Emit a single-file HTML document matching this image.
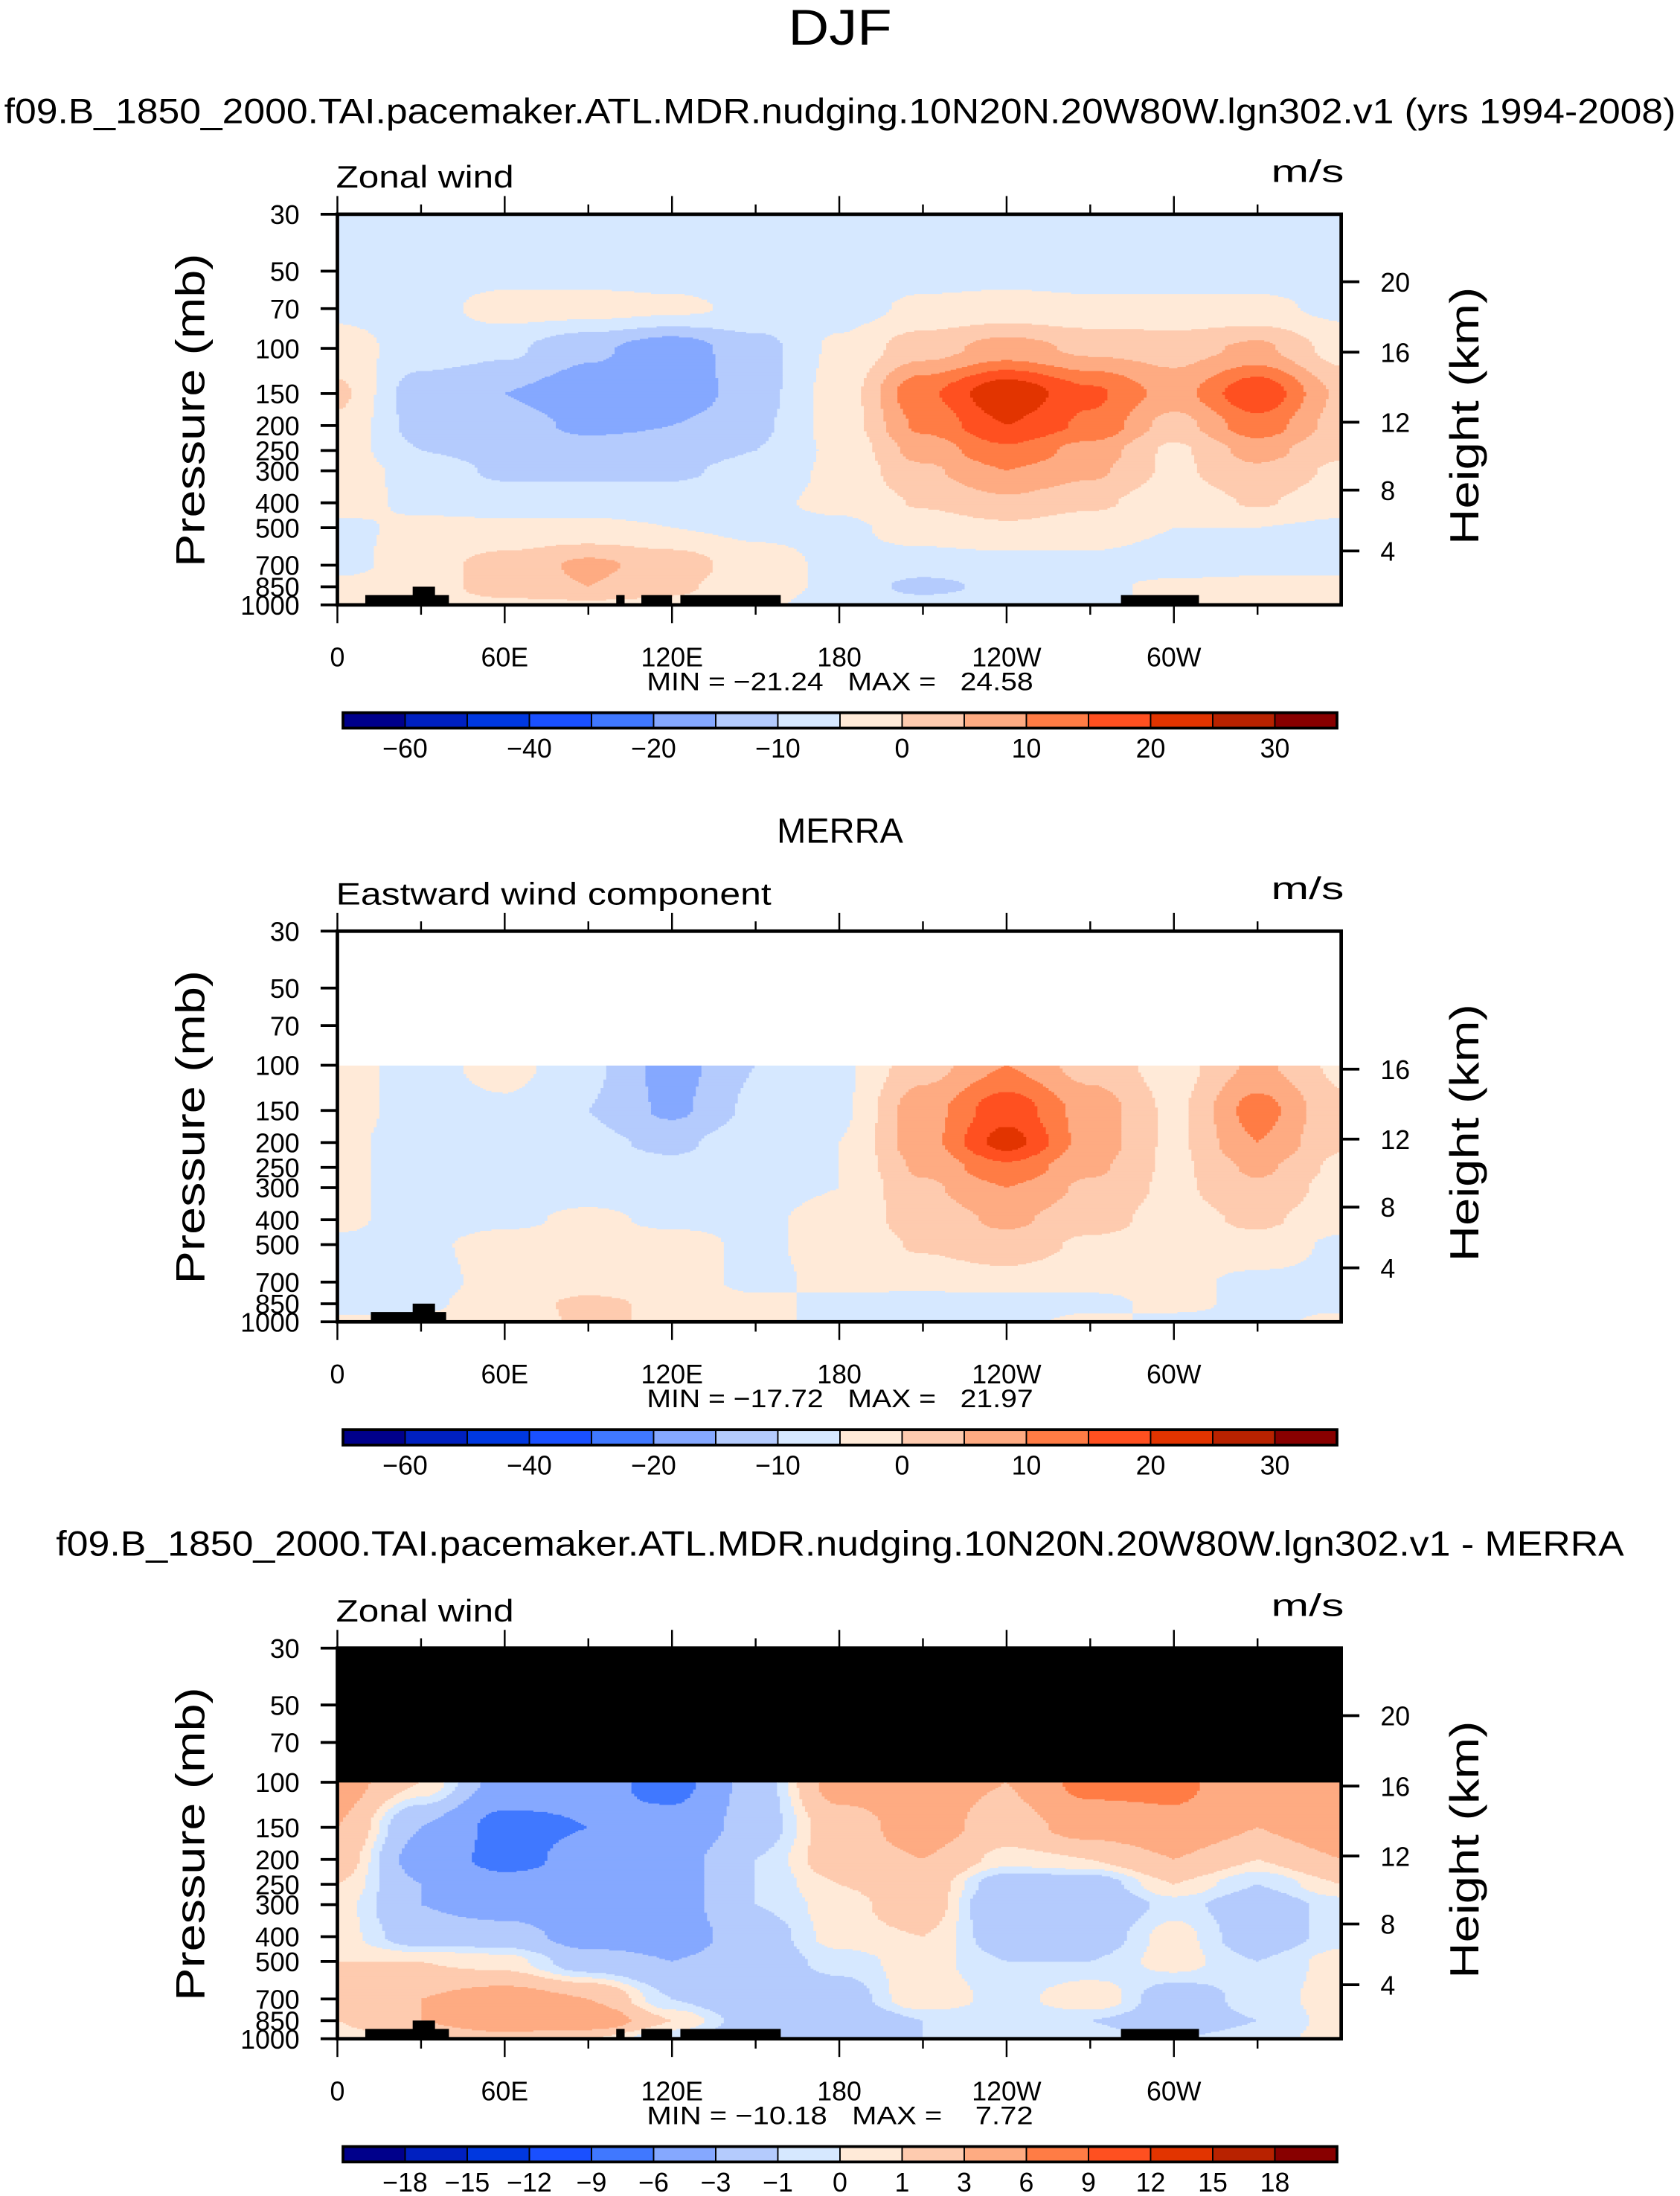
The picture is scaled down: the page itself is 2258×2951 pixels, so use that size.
<!DOCTYPE html>
<html><head><meta charset="utf-8"><style>
html,body{margin:0;padding:0;background:#fff;}
svg{display:block;}
text{font-family:"Liberation Sans",sans-serif;fill:#000;white-space:pre;}
</style></head><body>
<svg id="chart" xmlns="http://www.w3.org/2000/svg" width="2258" height="2951" viewBox="0 0 1200 1568.3" preserveAspectRatio="none">
<rect width="1200" height="1568.3" fill="#fff"/>
<text x="600" y="32" text-anchor="middle" font-size="36" textLength="74" lengthAdjust="spacingAndGlyphs">DJF</text>
<text x="600" y="88" text-anchor="middle" font-size="25" textLength="1194" lengthAdjust="spacingAndGlyphs">f09.B_1850_2000.TAI.pacemaker.ATL.MDR.nudging.10N20N.20W80W.lgn302.v1 (yrs 1994-2008)</text>
<text x="600" y="602" text-anchor="middle" font-size="25">MERRA</text>
<text x="600" y="1111" text-anchor="middle" font-size="25" textLength="1120" lengthAdjust="spacingAndGlyphs">f09.B_1850_2000.TAI.pacemaker.ATL.MDR.nudging.10N20N.20W80W.lgn302.v1 - MERRA</text>
</svg>
<script>
const lons=[0,30,60,90,120,150,180,210,240,270,300,330,360];
const plevs=[30,50,70,100,150,200,250,300,400,500,700,850,1000];
const xTickLabels=["0","60E","120E","180","120W","60W"];
const xTickLons=[0,60,120,180,240,300];
const pTickLabels=["30","50","70","100","150","200","250","300","400","500","700","850","1000"];
const heightTicks=[20,16,12,8,4];
const heightPres=[55,103.5,194,357,616];
const levelsAbs=[-60,-50,-40,-30,-20,-15,-10,-5,0,5,10,15,20,25,30];
const levelLabelsAbs=["-60","","-40","","-20","","-10","","0","","10","","20","","30"];
const levelsDiff=[-18,-15,-12,-9,-6,-3,-1,0,1,3,6,9,12,15,18];
const levelLabelsDiff=["-18","-15","-12","-9","-6","-3","-1","0","1","3","6","9","12","15","18"];
const palette=["#00008b","#0020c0","#0038e0","#1a50ff","#4078ff","#85a8ff","#b4cbfd","#d6e8ff","#ffead8","#fecbaf","#feab82","#ff7c45","#ff5020","#e23400","#b82200","#880000"];
const modelU=[
[-7,-7,-7,-7,-7,-7,-7,-7,-7,-7,-7,-7,-7],
[-7,-7,-7,-7,-7,-7,-7,-7,-7,-7,-7,-7,-7],
[-6,-7,-3,-3,-4,-6,-7,-4,-3,-4,-4,-4,-6],
[-3,-7,-9,-14,-18,-12,-4,3,7,4,3,6,-2],
[1,-13,-15,-18,-19,-12,-3,14,24,16,8,19,4],
[-1,-12,-13,-16,-15,-11,-3,11,20,14,3,13,3],
[-2,-10,-12,-13,-13,-10,-4,7,14,8,-1,7,1],
[-2,-7,-11,-11,-11,-8,-4,4,10,6,-1,4,-1],
[-3,-6,-7,-7,-7,-6,-4,0.5,4,1,-3,0.5,-3],
[-6,-4,-4,-4,-5,-6,-6,-3,-1,-3,-5,-5,-6],
[-7,-2,2,6,3,-3,-6,-7,-7,-6,-7,-7,-7],
[-3,-2,2,5,1,-3,-6,-12,-8,-6,-4,-3,-3],
[-3,-2,-1,-1,-1,-4,-7,-7,-7,-6,-4,-4,-4]];
const merraU=[
[null,null,null,null,null,null,null,null,null,null,null,null,null],
[null,null,null,null,null,null,null,null,null,null,null,null,null],
[null,null,null,null,null,null,null,null,null,null,null,null,null],
[-3,-7,-3,-9,-17,-10,-6,3,10,3,-2,6,-1],
[-3,-7,-6,-10,-16,-9,-6,8,18,8,-1,12,1],
[-4,-7,-7,-9,-11,-7,-5,8,22,8,-1,10,0.5],
[-4,-7,-7,-8,-9,-7,-5,6,14,6,-1,6,-1],
[-4,-7,-7,-7,-7,-7,-5,4,10,4,-1,4,-2],
[-4,-7,-6,-4,-6,-6,-3,2,6,2,-2,1,-3],
[-6,-6,-3,-3,-3,-6,-3,0.5,3,-1,-2,-2,-6],
[-7,-7,-3,-2,-3,-6,-4,-3,-2,-4,-4,-6,-6],
[-7,-6,-2,1,-1,-4,-6,-8,-8,-6,-4,-6,-6],
[-4,-4,-3,1,-1,-4,-6,-7,-6,-4,-6,-6,-4]];
const diffU=[
[null,null,null,null,null,null,null,null,null,null,null,null,null],
[null,null,null,null,null,null,null,null,null,null,null,null,null],
[null,null,null,null,null,null,null,null,null,null,null,null,null],
[4,1,-4,-5,-7,-2,4,4,3,7,7,3,4],
[3,-3,-7,-6,-5,-2,2,4,2,4,5,3,5],
[2,-4,-7,-5,-4,-1,2,3,0.5,1,3,1,3],
[1,-3,-5,-5,-4,-1,1,2,-2,-2,1,-1,1],
[0.5,-3,-4,-5,-4,-1,0.5,2,-3,-3,-0.5,-2,-0.5],
[0.5,-2,-2,-4,-4,-2,0.5,1,-2,-2,0.5,-2,-0.5],
[1,1,0.5,-2,-3,-2,-0.5,0.5,-1,-1,0.5,-1,0.5],
[2,3,4,3,-1,-3,-2,1,-0.5,1,-2,-0.5,0.5],
[1,3,5,5,1,-2,-3,-1,-0.5,-1,-2,-1,0.5],
[0.5,1,2,1,-1,-2,-2,-1,-0.5,-0.5,-1,-0.5,0.5]];
const minMaxText=["MIN = \u221221.24   MAX =   24.58","MIN = \u221217.72   MAX =   21.97","MIN = \u221210.18   MAX =    7.72"];
const landBars=[[10,40,0],[27,35,1],[100,103,0],[109,120,0],[123,159,0],[281,309,0]];
const landBarsMerra=[[12,39,0],[27,35,1]];

const NS="http://www.w3.org/2000/svg";
const svg=document.getElementById('chart');
function mk(tag,attrs,parent){const e=document.createElementNS(NS,tag);for(const k in attrs)e.setAttribute(k,attrs[k]);(parent||svg).appendChild(e);return e;}
const X0=241,X1=961,PW=720,PH=279;
function xScale(lon){return X0+lon/360*(PW-3);}
function yScale(p,top){return top+PH*Math.log(p/30)/Math.log(1000/30);}
function colorIdx(v,lv){let i=0;while(i<lv.length&&v>=lv[i])i++;return i;}
function sample(grid,lon,yy,top){
  const ys=plevs.map(p=>yScale(p,top));
  let r=0;while(r<ys.length-2&&yy>ys[r+1])r++;
  const ty=Math.min(1,Math.max(0,(yy-ys[r])/(ys[r+1]-ys[r])));
  let c=Math.min(lons.length-2,Math.floor(lon/30));const tx=(lon-lons[c])/30;
  const a=grid[r][c],b=grid[r][c+1],d=grid[r+1][c],e=grid[r+1][c+1];
  if(a===null||b===null||d===null||e===null){
    if(ty>0.999&&d!==null&&e!==null)return d*(1-tx)+e*tx;
    return null;}
  const s=t=>t*t*(3-2*t);
  const u=s(tx),w=s(ty);
  return (a*(1-u)+b*u)*(1-w)+(d*(1-u)+e*u)*w;
}
function panel(idx,top,grid,lv,labels,title,titleLen,missingFill,lands,topMissing){
  const g=mk('g',{});
  
  
  const fg=mk('g',{},g);
  
  
  const step=2;
  for(let yy=top;yy<top+PH;yy+=1){
    let runStart=X0,runCol=null;
    for(let xx=X0;xx<=X1-2;xx+=step){
      let col;
      if(xx<X1-3){const lon=(xx+step/2-X0)/(PW-3)*360;const v=sample(grid,Math.min(360,lon),yy+0.5,top);
        col=v===null?missingFill:palette[colorIdx(v,lv)];}
      else col='__end';
      if(col!==runCol){
        if(runCol!==null){const r=mk('rect',{x:runStart,y:yy,width:Math.min(xx,X1-3)-runStart+0.4,height:1.4,fill:runCol},fg);
          
          }
        runStart=xx;runCol=col;}
    }
  }
  lands.forEach(b=>{const h=b[2]?13:7;const r=mk('rect',{x:xScale(b[0]),y:top+PH-h,width:xScale(b[1])-xScale(b[0]),height:h,fill:'#000'},g);
    
    });
  const fr=mk('rect',{x:X0,y:top,width:PW-3,height:PH,fill:'none',stroke:'#000','stroke-width':2.5},g);
  
  
  const XR=X1-3;
  for(let lon=0;lon<360;lon+=30){
    const x=xScale(lon);const maj=lon%60===0;
    mk('line',{x1:x,x2:x,y1:top,y2:top-(maj?13:7),stroke:'#000','stroke-width':1.3},g);
    mk('line',{x1:x,x2:x,y1:top+PH,y2:top+PH+(maj?13:7),stroke:'#000','stroke-width':1.3},g);
  }
  xTickLons.forEach((lon,i)=>{const t=mk('text',{x:xScale(lon),y:top+PH+44,'text-anchor':'middle','font-size':19},g);t.textContent=xTickLabels[i];
    
    });
  plevs.forEach((p,i)=>{const y=yScale(p,top);mk('line',{x1:X0,x2:X0-12,y1:y,y2:y,stroke:'#000','stroke-width':2},g);
    const t=mk('text',{x:X0-27,y:y+7,'text-anchor':'end','font-size':19},g);t.textContent=pTickLabels[i];
    
    });
  heightTicks.forEach((h,i)=>{const p=heightPres[i];if(topMissing&&p<100)return;
    const y=yScale(p,top);mk('line',{x1:XR,x2:XR+13,y1:y,y2:y,stroke:'#000','stroke-width':2},g);
    const t=mk('text',{x:XR+28,y:y+7,'font-size':19},g);t.textContent=h;
    
    });
  const yl=mk('text',{x:0,y:0,'text-anchor':'middle','font-size':29,transform:`translate(146 ${top+140}) rotate(-90)`,textLength:224,lengthAdjust:'spacingAndGlyphs'},g);yl.textContent='Pressure (mb)';
  
  
  const hl=mk('text',{x:0,y:0,'text-anchor':'middle','font-size':29,transform:`translate(1056 ${top+144}) rotate(-90)`,textLength:184,lengthAdjust:'spacingAndGlyphs'},g);hl.textContent='Height (km)';
  
  
  const vt=mk('text',{x:240,y:top-19,'font-size':22,textLength:titleLen,lengthAdjust:'spacingAndGlyphs'},g);vt.textContent=title;
  
  
  const un=mk('text',{x:960,y:top-23,'text-anchor':'end','font-size':22,textLength:52,lengthAdjust:'spacingAndGlyphs'},g);un.textContent='m/s';
  
  
  const mm=mk('text',{x:600,y:top+PH+61,'text-anchor':'middle','font-size':18,textLength:276,lengthAdjust:'spacingAndGlyphs'},g);mm.textContent=minMaxText[idx];
  
  
  const cb=mk('g',{},g);
  
  
  const cx=245,cw=710/16,cy=top+356;
  palette.forEach((c,i)=>{const r=mk('rect',{x:cx+i*cw,y:cy,width:cw,height:11,fill:c,stroke:'#000','stroke-width':1},cb);
    
    });
  mk('rect',{x:cx,y:cy,width:710,height:11,fill:'none',stroke:'#000','stroke-width':2},cb);
  labels.forEach((l,i)=>{if(!l)return;const t=mk('text',{x:cx+(i+1)*cw,y:cy+32,'text-anchor':'middle','font-size':19},cb);t.textContent=l.replace('-','\u2212');
    
    });
}
panel(0,153,modelU,levelsAbs,levelLabelsAbs,'Zonal wind',127,'#fff',landBars,false);
panel(1,665,merraU,levelsAbs,levelLabelsAbs,'Eastward wind component',311,'#fff',landBarsMerra,true);
panel(2,1177,diffU,levelsDiff,levelLabelsDiff,'Zonal wind',127,'#000',landBars,false);
</script>
</body></html>
